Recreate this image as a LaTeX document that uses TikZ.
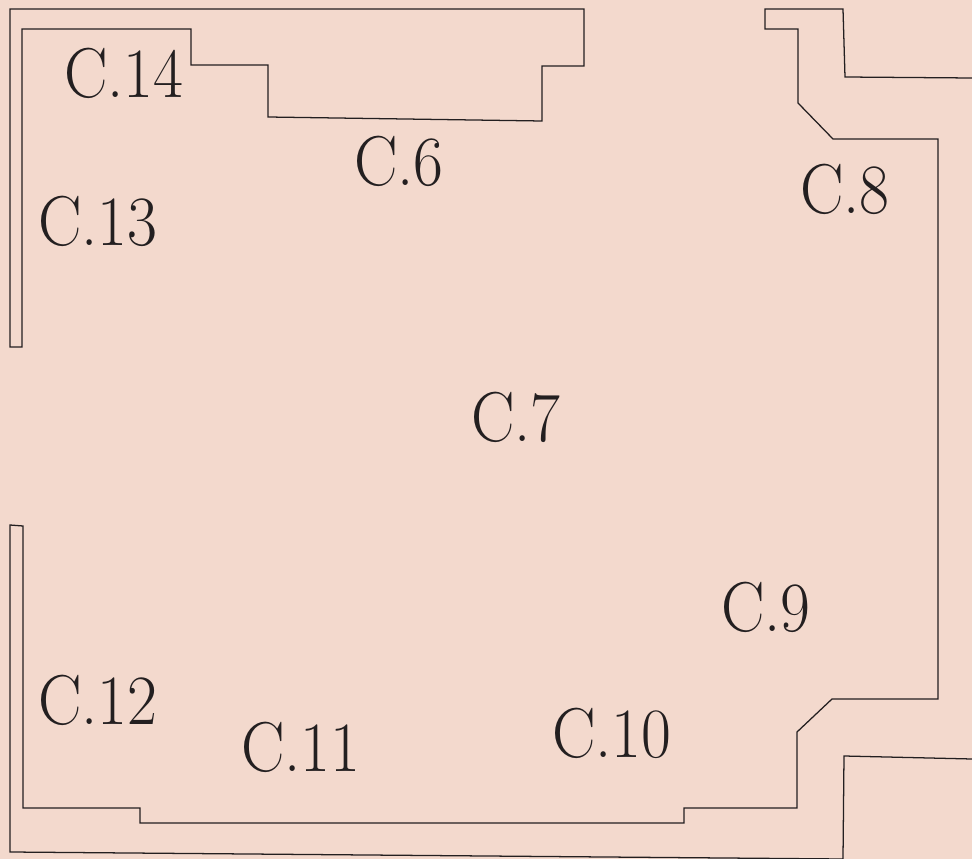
\documentclass[tikz,border=0pt]{standalone}
\usepackage{xcolor}
\definecolor{planbg}{HTML}{F3D9CD}
\definecolor{planink}{HTML}{231F20}
\tikzset{x=0.75pt,y=-0.75pt,
    wall/.style={draw=planink,line width=0.95pt,line join=miter},
    room/.style={inner sep=0pt,anchor=base west,text=planink,xscale=0.92,transform shape,font=\fontsize{53}{53}\selectfont}}

\begin{document}
\begin{tikzpicture}
    \fill[planbg] (0,0) rectangle (972,859);
    \useasboundingbox (0,0) rectangle (972,859);
    % upper left walls
    \draw[wall] (10,347) -- (10,9) -- (584,9) -- (584,66) -- (542,66) -- (542,121) -- (268,117) -- (268,65) -- (191,65) -- (191,29) -- (22,29) -- (22,347) -- cycle;
    % upper right
    \draw[wall] (972,78) -- (845,77) -- (843,9) -- (765,9) -- (765,29) -- (798,29) -- (798,103) -- (833,139) -- (938,139) -- (938,699) -- (832,699) -- (797,732) -- (797,808) -- (684,808) -- (684,823) -- (140,823) -- (140,808) -- (23,808) -- (23,526) -- (10,525) -- (10,852) -- (843,859) -- (844,756) -- (972,759);
    % room labels
    \node[room] (c14) at (64,98) {C.14};
    \node[room] (c13) at (38,246) {C.13};
    \node[room] (c6) at (354,186) {C.6};
    \node[room] (c8) at (800,214) {C.8};
    \node[room] (c7) at (471,442) {C.7};
    \node[room] (c9) at (721,631) {C.9};
    \node[room] (c10) at (552,757) {C.10};
    \node[room] (c11) at (241,771) {C.11};
    \node[room] (c12) at (38,724) {C.12};
\end{tikzpicture}
\end{document}
